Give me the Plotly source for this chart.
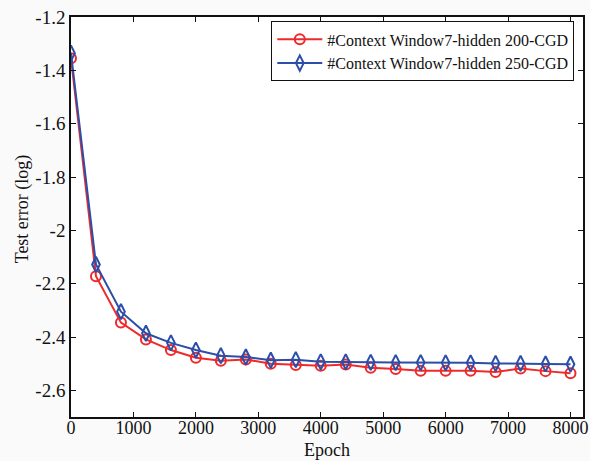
import plotly.graph_objects as go

epochs = [0, 400, 800, 1200, 1600, 2000, 2400, 2800, 3200, 3600, 4000,
          4400, 4800, 5200, 5600, 6000, 6400, 6800, 7200, 7600, 8000]
err_h200 = [-1.355, -2.172, -2.346, -2.409, -2.449, -2.478, -2.489, -2.484, -2.500, -2.505, -2.508,
            -2.503, -2.515, -2.520, -2.527, -2.527, -2.527, -2.531, -2.518, -2.528, -2.536]
err_h250 = [-1.336, -2.128, -2.305, -2.386, -2.422, -2.449, -2.470, -2.475, -2.487, -2.485, -2.493,
            -2.493, -2.495, -2.496, -2.496, -2.497, -2.497, -2.499, -2.499, -2.501, -2.502]
names = ["#Context Window7-hidden 200-CGD", "#Context Window7-hidden 250-CGD"]
x_ticks = [0, 1000, 2000, 3000, 4000, 5000, 6000, 7000, 8000]
y_ticks = [-2.6, -2.4, -2.2, -2.0, -1.8, -1.6, -1.4, -1.2]
y_tick_text = ["-2.6", "-2.4", "-2.2", "-2", "-1.8", "-1.6", "-1.4", "-1.2"]
x_title = "Epoch"
y_title = "Test error (log)"

red = "#ee2a2a"
blue = "#2c4ea8"
serif = "Liberation Serif"
ink = "#111111"

fig = go.Figure()
fig.add_trace(go.Scatter(
    x=epochs, y=err_h200, name=names[0], mode="lines+markers",
    line=dict(color=red, width=2),
    marker=dict(symbol="circle-open", size=10, color=red, line=dict(width=2, color=red)),
))
fig.add_trace(go.Scatter(
    x=epochs, y=err_h250, name=names[1], mode="lines+markers",
    line=dict(color=blue, width=2),
    marker=dict(symbol="diamond-tall-open", size=11, color=blue, line=dict(width=2, color=blue)),
))

fig.update_layout(
    width=590, height=461,
    margin=dict(l=71, r=7, t=17, b=44),
    paper_bgcolor="#fafafa",
    plot_bgcolor="#ffffff",
    font=dict(size=18, family=serif, color=ink),
    showlegend=True,
    legend=dict(
        x=0.983, y=0.989, xanchor="right", yanchor="top",
        bgcolor="#ffffff", bordercolor=ink, borderwidth=1,
        font=dict(size=16, family=serif, color=ink),
        tracegroupgap=0, itemwidth=45,
    ),
    annotations=[
        dict(text=x_title, xref="paper", yref="paper", x=0.5, y=-0.082,
             xanchor="center", yanchor="middle", showarrow=False,
             font=dict(size=18, family=serif, color=ink)),
        dict(text=y_title, xref="paper", yref="paper", x=-0.095, y=0.52,
             xanchor="center", yanchor="middle", showarrow=False, textangle=-90,
             font=dict(size=18, family=serif, color=ink)),
    ],
)
fig.update_xaxes(
    range=[0, 8200], tickvals=x_ticks, ticks="inside", ticklen=5, tickcolor=ink,
    showline=True, linecolor=ink, linewidth=1.5, mirror="ticks",
    showgrid=False, zeroline=False, automargin=False,
    ticklabeloverflow="allow", ticklabelstandoff=-6,
    tickfont=dict(size=18, family=serif, color=ink),
)
fig.update_yaxes(
    range=[-2.7, -1.2], tickvals=y_ticks, ticktext=y_tick_text, ticks="inside", ticklen=5,
    tickcolor=ink,
    showline=True, linecolor=ink, linewidth=1.5, mirror="ticks",
    showgrid=False, zeroline=False, automargin=False,
    ticklabeloverflow="allow",
    tickfont=dict(size=19, family=serif, color=ink),
)

fig.write_html(
    "out.html",
    config={"displayModeBar": False},
    post_script="document.body.style.margin='0';document.body.style.overflow='hidden';",
)
